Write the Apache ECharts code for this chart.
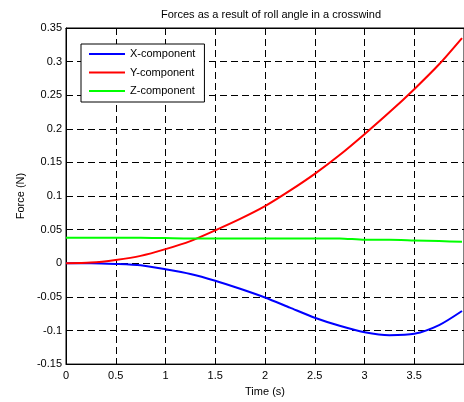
<!DOCTYPE html>
<html>
<head>
<meta charset="utf-8">
<script src="https://cdn.jsdelivr.net/npm/echarts@6/dist/echarts.min.js"></script>
<style>
html,body{margin:0;padding:0;background:#fff;}
#chart{width:464px;height:402px;}
</style>
</head>
<body>
<div id="chart"></div>
<script>
var time = [0, 0.25, 0.5, 0.75, 1, 1.25, 1.5, 1.75, 2, 2.25, 2.5, 2.75, 3, 3.25, 3.5, 3.75, 3.98];
var xComponent = [0, 0, -0.001, -0.003, -0.009, -0.016, -0.026, -0.038, -0.051, -0.066, -0.081, -0.093, -0.1025, -0.107, -0.105, -0.092, -0.071];
var yComponent = [0, 0.001, 0.005, 0.011, 0.021, 0.033, 0.049, 0.066, 0.085, 0.108, 0.133, 0.161, 0.192, 0.2245, 0.259, 0.296, 0.335];
var zComponent = [0.038, 0.038, 0.038, 0.038, 0.0375, 0.037, 0.037, 0.037, 0.037, 0.037, 0.037, 0.037, 0.035, 0.035, 0.034, 0.033, 0.032];
var seriesNames = ['X-component', 'Y-component', 'Z-component'];
var seriesColors = ['#0000ff', '#ff0000', '#00ff00'];
var titleText = 'Forces as a result of roll angle in a crosswind';
var xTitle = 'Time (s)';
var yTitle = 'Force (N)';

function pairs(vals) { return time.map(function (t, i) { return [t, vals[i]]; }); }
var allVals = [xComponent, yComponent, zComponent];
var font = 'Liberation Sans, Arial, sans-serif';
var gridLine = { show: true, lineStyle: { color: '#000', type: [7, 4], width: 1 } };

var chart = echarts.init(document.getElementById('chart'), null, { renderer: 'canvas' });
chart.setOption({
  animation: false,
  backgroundColor: '#fff',
  textStyle: { fontFamily: font },
  title: { text: titleText, left: 266, top: 4, textAlign: 'center',
    textStyle: { fontSize: 11, fontWeight: 'normal', color: '#000', fontFamily: font } },
  grid: { left: 66, top: 28, width: 400, height: 341, show: true, borderColor: '#000', borderWidth: 1, backgroundColor: '#fff' },
  legend: {
    orient: 'vertical', left: 81, top: 44,
    data: seriesNames, icon: 'rect',
    itemWidth: 36, itemHeight: 2, itemGap: 4.5,
    padding: [3, 9, 4, 8],
    backgroundColor: '#fff', borderColor: '#000', borderWidth: 1,
    textStyle: { fontSize: 11, color: '#000', fontFamily: font, lineHeight: 14, padding: [0, 0, 0, 0] }
  },
  xAxis: [{
    type: 'value', min: 0, max: 4, interval: 0.5,
    name: xTitle, nameLocation: 'middle', nameGap: 21,
    nameTextStyle: { fontSize: 11, color: '#000', fontFamily: font },
    axisLine: { show: true, onZero: false, lineStyle: { color: '#000', width: 1 } },
    axisTick: { show: true, inside: true, length: 4, lineStyle: { color: '#000' } },
    axisLabel: { fontSize: 11, color: '#000', margin: 6, fontFamily: font, showMaxLabel: false },
    splitLine: gridLine
  }, {
    type: 'value', min: 0, max: 4, interval: 0.5, position: 'top',
    axisLine: { show: true, onZero: false, lineStyle: { color: '#000', width: 1 } },
    axisTick: { show: true, inside: true, length: 4, lineStyle: { color: '#000' } },
    axisLabel: { show: false }, splitLine: { show: false }
  }],
  yAxis: [{
    type: 'value', min: -0.15, max: 0.35, interval: 0.05,
    name: yTitle, nameLocation: 'middle', nameGap: 40,
    nameTextStyle: { fontSize: 11, color: '#000', fontFamily: font },
    axisLine: { show: true, onZero: false, lineStyle: { color: '#000', width: 1 } },
    axisTick: { show: true, inside: true, length: 4, lineStyle: { color: '#000' } },
    axisLabel: { fontSize: 11, color: '#000', margin: 4, fontFamily: font,
      formatter: function (v) { return String(Math.round(v * 100) / 100); } },
    splitLine: gridLine
  }],
  series: seriesNames.map(function (n, i) {
    return {
      name: n, type: 'line', data: pairs(allVals[i]), symbol: 'none',
      smooth: 0.25,
      lineStyle: { color: seriesColors[i], width: 2 }, itemStyle: { color: seriesColors[i] },
      z: 3
    };
  })
});
</script>
</body>
</html>
